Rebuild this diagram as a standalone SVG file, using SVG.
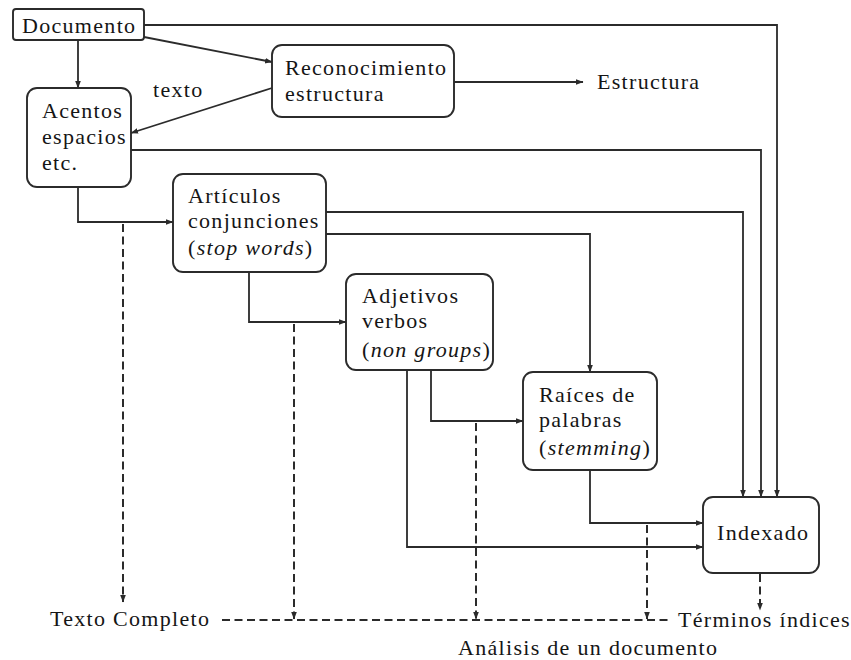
<svg xmlns="http://www.w3.org/2000/svg" width="851" height="660" viewBox="0 0 851 660">
  <style>
    text { font-family: "Liberation Serif", "Times New Roman", serif; font-size: 22px; letter-spacing: 1.3px; fill: #151515; }
    .it { font-style: italic; }
    .box { fill: #ffffff; stroke: #2b2b2b; stroke-width: 1.9; }
    .ln { fill: none; stroke: #2b2b2b; stroke-width: 1.8; }
    .dash { fill: none; stroke: #2b2b2b; stroke-width: 2; stroke-dasharray: 8 4.5; }
  </style>
  <defs>
    <marker id="arr" markerUnits="userSpaceOnUse" markerWidth="10" markerHeight="8" refX="7" refY="3" orient="auto">
      <path d="M0,0.2 L7.5,3 L0,5.8 z" fill="#2b2b2b"/>
    </marker>
  </defs>

  <rect width="851" height="660" fill="#ffffff"/>

  <!-- connectors -->
  <g id="connectors">
    <path class="ln" d="M78,40 V88" marker-end="url(#arr)"/>
    <path class="ln" d="M144,37 L272,62" marker-end="url(#arr)"/>
    <path class="ln" d="M272,88 L131,133" marker-end="url(#arr)"/>
    <path class="ln" d="M454,82 H583" marker-end="url(#arr)"/>
    <path class="ln" d="M144,25 H777 V497" marker-end="url(#arr)"/>
    <path class="ln" d="M131,150 H761 V497" marker-end="url(#arr)"/>
    <path class="ln" d="M326,212 H743 V497" marker-end="url(#arr)"/>
    <path class="ln" d="M326,234 H590 V372" marker-end="url(#arr)"/>
    <path class="ln" d="M78,187 V222 H173" marker-end="url(#arr)"/>
    <path class="ln" d="M249,272 V322 H346" marker-end="url(#arr)"/>
    <path class="ln" d="M431,370 V421 H523" marker-end="url(#arr)"/>
    <path class="ln" d="M407,370 V547 H703" marker-end="url(#arr)"/>
    <path class="ln" d="M590,470 V523 H703" marker-end="url(#arr)"/>

    <!-- dashed outputs to the full-text line -->
    <path class="dash" d="M123,224 V602" marker-end="url(#arr)"/>
    <path class="dash" d="M294,324 V619" marker-end="url(#arr)"/>
    <path class="dash" d="M476,423 V619" marker-end="url(#arr)"/>
    <path class="dash" d="M647,525 V619" marker-end="url(#arr)"/>
    <path class="dash" d="M222,620 H670"/>
    <path class="dash" d="M760,574 V610" marker-end="url(#arr)"/>
  </g>

  <!-- nodes -->
  <g id="documento">
    <rect class="box" x="13" y="9" width="131" height="31" rx="3"/>
    <text x="22" y="33">Documento</text>
  </g>
  <g id="reconocimiento">
    <rect class="box" x="272" y="45" width="182" height="72" rx="10"/>
    <text x="285" y="75">Reconocimiento</text>
    <text x="285" y="101">estructura</text>
  </g>
  <g id="acentos">
    <rect class="box" x="27" y="88" width="104" height="99" rx="10"/>
    <text x="42" y="118">Acentos</text>
    <text x="42" y="144">espacios</text>
    <text x="42" y="170">etc.</text>
  </g>
  <g id="articulos">
    <rect class="box" x="173" y="174" width="153" height="98" rx="10"/>
    <text x="188" y="203">Artículos</text>
    <text x="188" y="228">conjunciones</text>
    <text x="188" y="255">(<tspan class="it">stop words</tspan>)</text>
  </g>
  <g id="adjetivos">
    <rect class="box" x="346" y="274" width="147" height="96" rx="10"/>
    <text x="362" y="303">Adjetivos</text>
    <text x="362" y="328">verbos</text>
    <text x="362" y="357">(<tspan class="it">non groups</tspan>)</text>
  </g>
  <g id="raices">
    <rect class="box" x="523" y="372" width="134" height="98" rx="10"/>
    <text x="539" y="402">Raíces de</text>
    <text x="539" y="427">palabras</text>
    <text x="539" y="455">(<tspan class="it">stemming</tspan>)</text>
  </g>
  <g id="indexado">
    <rect class="box" x="703" y="497" width="116" height="76" rx="10"/>
    <text x="717" y="540">Indexado</text>
  </g>

  <!-- free labels -->
  <g id="labels">
    <text x="153" y="97">texto</text>
    <text x="597" y="89">Estructura</text>
    <text x="50" y="626">Texto Completo</text>
    <text x="678" y="627">Términos índices</text>
    <text x="458" y="655">Análisis de un documento</text>
  </g>
</svg>
